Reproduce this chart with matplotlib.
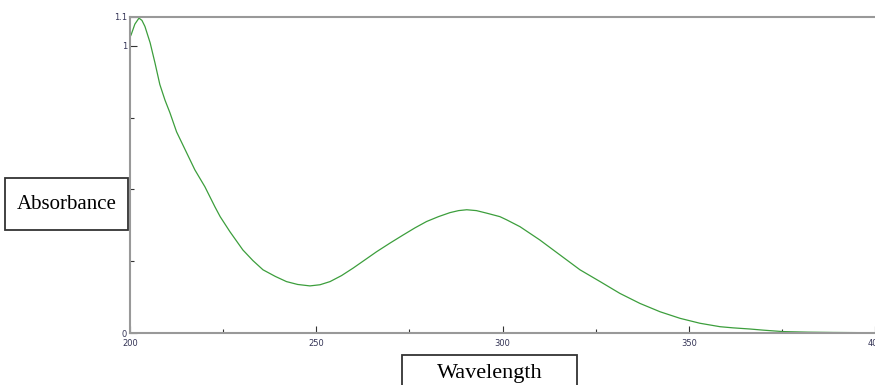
import matplotlib.pyplot as plt
from matplotlib.patches import Rectangle

# spectrum
wavelength = [200, 200.3, 201.3, 202.4, 203.2, 204, 205.4, 206.7, 208, 209.4, 210.7,
              212.5, 214.8, 217.4, 220.1, 222.8, 224.2, 226.8, 230.3, 233, 235.7,
              239, 242, 245, 248.3, 251, 253.7, 256.8, 259.9, 263, 266.2, 269.8,
              273.3, 276.5, 279.6, 282.8, 285.9, 288.2, 290.4, 293, 295.8, 299.3,
              301.1, 304.7, 310, 315.4, 320.8, 326.2, 331.5, 336.9, 342.3, 347.7,
              353, 358.4, 361.9, 366.4, 370, 375.3, 382, 388.7, 394, 400]
absorbance = [1.03, 1.038, 1.075, 1.096, 1.088, 1.067, 1.01, 0.94, 0.865, 0.81, 0.767,
              0.70, 0.638, 0.568, 0.509, 0.439, 0.405, 0.353, 0.289, 0.252, 0.22,
              0.197, 0.179, 0.169, 0.164, 0.168, 0.179, 0.2, 0.226, 0.254, 0.283, 0.313,
              0.341, 0.366, 0.388, 0.405, 0.419, 0.426, 0.429, 0.426, 0.417, 0.405,
              0.394, 0.37, 0.324, 0.272, 0.22, 0.179, 0.138, 0.103, 0.074, 0.051,
              0.034, 0.022, 0.018, 0.014, 0.01, 0.005, 0.003, 0.002, 0.0015, 0.001]

xticks_major = [200, 250, 300, 350, 400]
xticks_minor = [225, 275, 325, 375]
yticks_major = [0, 1, 1.1]
yticks_minor = [0.25, 0.5, 0.75]

fig = plt.figure(figsize=(8.75, 3.85), dpi=100)
ax = fig.add_axes([0.1486, 0.135, 0.8514, 0.821])
ax.plot(wavelength, absorbance, color='#3c9e3c', lw=0.9)
ax.set_xlim(200, 400)
ax.set_ylim(0, 1.1)

ax.set_xticks(xticks_major)
ax.set_xticklabels([str(v) for v in xticks_major])
ax.set_xticks(xticks_minor, minor=True)
ax.set_yticks(yticks_major)
ax.set_yticklabels(['0', '1', '1.1'])
ax.set_yticks(yticks_minor, minor=True)
ax.tick_params(which='both', direction='in', labelsize=6, labelcolor='#333355',
               color='#333333', width=0.8)
ax.tick_params(which='major', length=5)
ax.tick_params(which='minor', length=3)
ax.tick_params(axis='y', pad=2)
ax.tick_params(axis='x', pad=4)

for s in ['left', 'bottom', 'top']:
    ax.spines[s].set_color('#999999')
    ax.spines[s].set_linewidth(1.5)
ax.spines['right'].set_visible(False)

# boxed axis labels
fig.add_artist(Rectangle((0.0057, 0.4026), 0.1406, 0.135, transform=fig.transFigure,
                         fc='white', ec='#333333', lw=1.3))
fig.text(0.076, 0.47, 'Absorbance', family='Liberation Serif', fontsize=15,
         ha='center', va='center')
fig.add_artist(Rectangle((0.4594, -0.05), 0.2, 0.128, transform=fig.transFigure,
                         fc='white', ec='#333333', lw=1.3))
fig.text(0.5594, 0.03, 'Wavelength', family='Liberation Serif', fontsize=16,
         ha='center', va='center')

fig.savefig('out.png', dpi=100)
